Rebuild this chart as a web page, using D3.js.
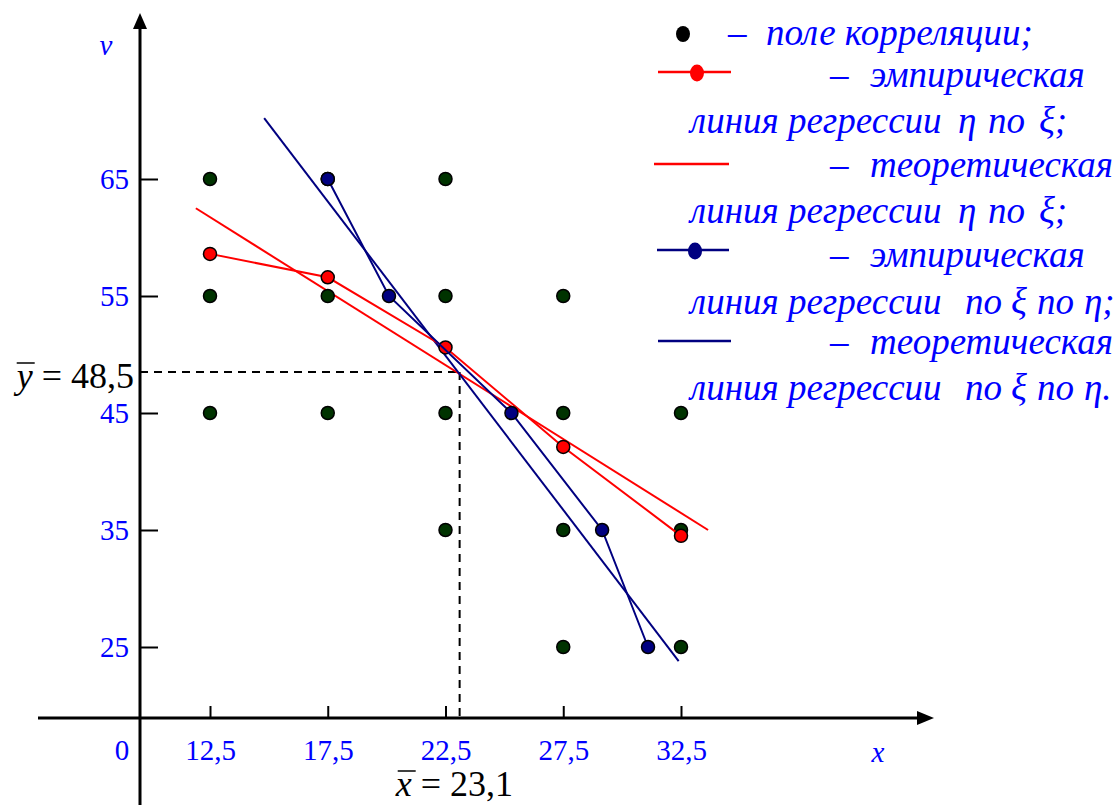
<!DOCTYPE html>
<html><head><meta charset="utf-8">
<script src="https://cdn.jsdelivr.net/npm/d3@7"></script>
<style>body{margin:0;background:#fff}svg{display:block}text{font-family:"Liberation Serif","Times New Roman",serif}</style>
</head><body>
<script>
const xTicks=[12.5,17.5,22.5,27.5,32.5];
const yTicks=[25,35,45,55,65];
const fieldX=[12.5,12.5,12.5,17.5,17.5,17.5,22.5,22.5,22.5,22.5,27.5,27.5,27.5,27.5,32.5,32.5,32.5];
const fieldY=[65,55,45,65,55,45,65,55,45,35,55,45,35,25,45,35,25];
const empYX_x=[12.5,17.5,22.5,27.5,32.5];
const empYX_y=[58.6,56.6,50.6,42.1,34.5];
const empXY_x=[17.5,20.1,25.3,29.15,31.1];
const empXY_y=[65,55,45,35,25];
const theoYX_x=[11.9,33.65];
const theoYX_y=[62.5,35];
const theoXY_x=[14.8,32.4];
const theoXY_y=[70.2,23.8];
const meanX=23.1, meanY=48.5;

const W=1119,H=805;
const svg=d3.select("body").append("svg").attr("width",W).attr("height",H);
const x=d3.scaleLinear().domain([12.5,32.5]).range([210,681]);
const y=d3.scaleLinear().domain([25,65]).range([647,179]);
const axX=140, axY=718;
const fmt=d=>String(d).replace(".",",");
const blue="#0000ff", navy="#000080";

// mean dashed lines
svg.append("line").attr("x1",axX).attr("x2",x(meanX)).attr("y1",y(meanY)).attr("y2",y(meanY))
 .attr("stroke","#000").attr("stroke-width",2).attr("stroke-dasharray","8,6");
svg.append("line").attr("x1",x(meanX)).attr("x2",x(meanX)).attr("y1",y(meanY)).attr("y2",axY)
 .attr("stroke","#000").attr("stroke-width",2).attr("stroke-dasharray","8,6");

// axes
const gx=svg.append("g").attr("transform",`translate(0,${axY})`)
 .call(d3.axisBottom(x).tickValues(xTicks).tickFormat(fmt).tickSize(-12).tickPadding(21));
gx.select(".domain").remove();
gx.selectAll(".tick line").attr("stroke","#000").attr("stroke-width",2);
gx.selectAll(".tick text").attr("fill",blue).attr("font-size",29).attr("font-family","Liberation Serif");
const gy=svg.append("g").attr("transform",`translate(${axX},0)`)
 .call(d3.axisLeft(y).tickValues(yTicks).tickFormat(fmt).tickSize(-18).tickPadding(11));
gy.select(".domain").remove();
gy.selectAll(".tick line").attr("stroke","#000").attr("stroke-width",2);
gy.selectAll(".tick text").attr("fill",blue).attr("font-size",29).attr("font-family","Liberation Serif");

svg.append("line").attr("x1",38).attr("x2",920).attr("y1",axY).attr("y2",axY).attr("stroke","#000").attr("stroke-width",3);
svg.append("path").attr("d",`M934,${axY} L917,${axY-7} L917,${axY+7} Z`).attr("fill","#000");
svg.append("line").attr("x1",axX).attr("x2",axX).attr("y1",25).attr("y2",H).attr("stroke","#000").attr("stroke-width",3);
svg.append("path").attr("d",`M${axX},13 L${axX-7},29 L${axX+7},29 Z`).attr("fill","#000");

svg.append("text").attr("x",122).attr("y",760).attr("text-anchor","middle").attr("fill",blue).attr("font-size",29).text("0");
svg.append("text").attr("x",106).attr("y",55).attr("text-anchor","middle").attr("fill",blue).attr("font-size",29).attr("font-style","italic").text("v");
svg.append("text").attr("x",878).attr("y",762).attr("text-anchor","middle").attr("fill",blue).attr("font-size",29).attr("font-style","italic").text("x");

// mean labels
function meanLabel(xr,yb,varName,val){
  const t=svg.append("text").attr("x",xr).attr("y",yb).attr("text-anchor","end").attr("font-size",36).attr("fill","#000");
  t.append("tspan").attr("font-style","italic").text(varName);
  t.append("tspan").text(" = "+val);
  const bb=t.node().getBBox();
  svg.append("line").attr("x1",bb.x+3).attr("x2",bb.x+21).attr("y1",bb.y+7).attr("y2",bb.y+7).attr("stroke","#000").attr("stroke-width",1.5);
}
meanLabel(134,388,"y","48,5");
meanLabel(513,796,"x","23,1");

// theoretical lines
const line=d3.line().x(d=>x(d[0])).y(d=>y(d[1]));
svg.append("path").attr("d",line(d3.zip(theoYX_x,theoYX_y))).attr("fill","none").attr("stroke","red").attr("stroke-width",2);
svg.append("path").attr("d",line(d3.zip(theoXY_x,theoXY_y))).attr("fill","none").attr("stroke",navy).attr("stroke-width",2);

// field
svg.selectAll("circle.f").data(d3.zip(fieldX,fieldY)).join("circle").attr("class","f")
 .attr("cx",d=>x(d[0])).attr("cy",d=>y(d[1])).attr("r",6.5).attr("fill","#003300").attr("stroke","#000").attr("stroke-width",1.5);

// empirical lines
svg.append("path").attr("d",line(d3.zip(empYX_x,empYX_y))).attr("fill","none").attr("stroke","red").attr("stroke-width",2);
svg.selectAll("circle.r").data(d3.zip(empYX_x,empYX_y)).join("circle").attr("class","r")
 .attr("cx",d=>x(d[0])).attr("cy",d=>y(d[1])).attr("r",6.5).attr("fill","red").attr("stroke","#000").attr("stroke-width",1.5);
svg.append("path").attr("d",line(d3.zip(empXY_x,empXY_y))).attr("fill","none").attr("stroke",navy).attr("stroke-width",2);
svg.selectAll("circle.b").data(d3.zip(empXY_x,empXY_y)).join("circle").attr("class","b")
 .attr("cx",d=>x(d[0])).attr("cy",d=>y(d[1])).attr("r",6.5).attr("fill",navy).attr("stroke","#000").attr("stroke-width",1.5);

// legend
const lg=svg.append("g");
function ltext(yy,parts){
  const t=lg.append("text").attr("y",yy).attr("fill",blue).attr("font-size",37).attr("font-style","italic");
  parts.forEach(p=>t.append("tspan").attr("x",p[0]).text(p[1]));
}
lg.append("ellipse").attr("cx",683).attr("cy",34).attr("rx",7).attr("ry",8).attr("fill","#000");
ltext(45,[[728,"–"],[766,"поле корреляции;"]]);
lg.append("line").attr("x1",658).attr("x2",731).attr("y1",72).attr("y2",72).attr("stroke","red").attr("stroke-width",2.5);
lg.append("ellipse").attr("cx",697).attr("cy",73).attr("rx",7).attr("ry",8.5).attr("fill","red");
ltext(87,[[830,"–"],[870,"эмпирическая"]]);
ltext(133,[[690,"линия регрессии"],[958,"η"],[988,"по"],[1039,"ξ;"]]);
lg.append("line").attr("x1",654).attr("x2",729).attr("y1",164).attr("y2",164).attr("stroke","red").attr("stroke-width",2.5);
ltext(177,[[830,"–"],[870,"теоретическая"]]);
ltext(223,[[690,"линия регрессии"],[958,"η"],[988,"по"],[1039,"ξ;"]]);
lg.append("line").attr("x1",657).attr("x2",729).attr("y1",250).attr("y2",250).attr("stroke",navy).attr("stroke-width",2.5);
lg.append("ellipse").attr("cx",695).attr("cy",251).attr("rx",7).attr("ry",8.5).attr("fill",navy);
ltext(267,[[830,"–"],[870,"эмпирическая"]]);
ltext(314,[[690,"линия регрессии"],[965,"по"],[1011,"ξ"],[1037,"по"],[1084,"η;"]]);
lg.append("line").attr("x1",658).attr("x2",731).attr("y1",341).attr("y2",341).attr("stroke",navy).attr("stroke-width",2.5);
ltext(354,[[830,"–"],[870,"теоретическая"]]);
ltext(400,[[690,"линия регрессии"],[965,"по"],[1011,"ξ"],[1037,"по"],[1084,"η."]]);
</script>
</body></html>
